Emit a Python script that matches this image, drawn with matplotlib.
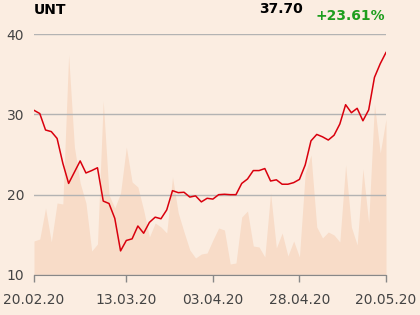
import matplotlib
matplotlib.use('Agg')
import matplotlib.pyplot as plt
import numpy as np

# closing prices, one per trading day (20.02.20 .. 20.05.20)
price = [30.5, 30.1, 28.05, 27.85, 27.0, 23.9, 21.4, 22.8, 24.2, 22.7,
         23.0, 23.35, 19.2, 18.9, 17.05, 13.0, 14.3, 14.5, 16.1, 15.2,
         16.55, 17.2, 17.0, 18.1, 20.5, 20.25, 20.3, 19.7, 19.85, 19.1,
         19.55, 19.45, 20.0, 20.05, 20.0, 20.0, 21.4, 21.95, 23.0, 23.0,
         23.25, 21.7, 21.85, 21.3, 21.3, 21.5, 21.9, 23.7, 26.7, 27.5,
         27.2, 26.8, 27.4, 28.8, 31.2, 30.2, 30.75, 29.2, 30.55, 34.6,
         36.3, 37.7]
# traded volume (millions, approx.)
volume = [0.34, 0.36, 0.67, 0.33, 0.72, 0.71, 2.20, 1.28, 0.92, 0.72,
          0.24, 0.31, 1.74, 0.80, 0.67, 0.82, 1.28, 0.93, 0.88, 0.65,
          0.38, 0.52, 0.48, 0.42, 0.98, 0.62, 0.43, 0.25, 0.17, 0.21,
          0.22, 0.35, 0.47, 0.45, 0.11, 0.12, 0.58, 0.64, 0.29, 0.28,
          0.18, 0.82, 0.27, 0.42, 0.19, 0.34, 0.18, 1.02, 1.20, 0.48,
          0.37, 0.43, 0.40, 0.33, 1.10, 0.48, 0.30, 1.06, 0.52, 1.71,
          1.22, 1.56]
tick_pos = [0, 16, 31, 46, 61]
tick_labels = ['20.02.20', '13.03.20', '03.04.20', '28.04.20', '20.05.20']
y_ticks = [10, 20, 30, 40]

bg = '#fbede1'
x = np.arange(len(price))

fig = plt.figure(figsize=(4.2, 3.15), dpi=100, facecolor=bg)
ax = fig.add_axes([34/420, 1-275/315, 352/420, 241/315])
ax.set_facecolor(bg)

# volume on a hidden twin axis, behind the price line
axv = ax.twinx()
axv.fill_between(x, 0, volume, color='#f8dcc8', lw=0)
axv.set_ylim(0, 2.41)
axv.set_yticks([])
for s in axv.spines.values():
    s.set_visible(False)
ax.set_zorder(axv.get_zorder() + 1)
ax.patch.set_visible(False)
axv.patch.set_facecolor(bg)

ax.plot(x, price, color='#d9000d', lw=1.1)
ax.set_xlim(0, len(price) - 1)
ax.set_ylim(10, 40)
ax.set_yticks(y_ticks)
ax.grid(axis='y', color='#b3b3b3', lw=1)
ax.set_xticks(tick_pos)
ax.set_xticklabels(tick_labels)
ax.tick_params(axis='y', length=0, pad=7, labelsize=10, labelcolor='#444444')
ax.tick_params(axis='x', length=5, width=1, color='#888888', pad=8,
               labelsize=10, labelcolor='#444444')
for k in ['top', 'right', 'left']:
    ax.spines[k].set_visible(False)
ax.spines['bottom'].set_color('#888888')

fig.text(34/420, 1-10/315, 'UNT', fontsize=10, fontweight='bold', va='center')
fig.text(303/420, 1-9/315, '37.70', fontsize=10, fontweight='bold',
         va='center', ha='right')
fig.text(385/420, 1-16/315, '+23.61%', fontsize=10, fontweight='bold',
         va='center', ha='right', color='#1e9e1e')

fig.savefig('out.png', dpi=100, facecolor=bg)
